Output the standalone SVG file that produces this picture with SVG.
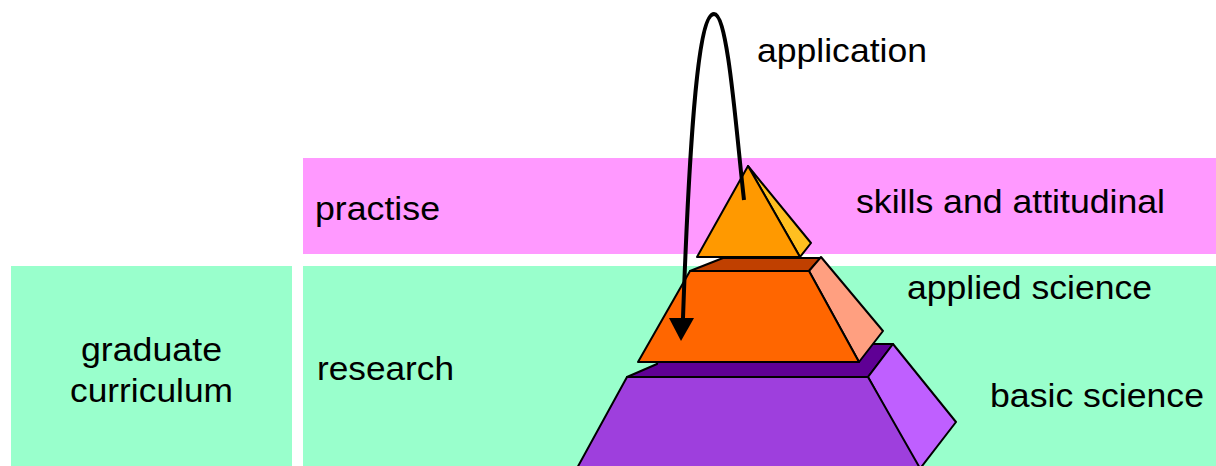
<svg xmlns="http://www.w3.org/2000/svg" width="1216" height="466" viewBox="0 0 1216 466">
<defs>
<style>
text{font-family:"Liberation Sans",Arial,sans-serif;font-size:33px;fill:#000}
.f{stroke:#000;stroke-width:2;stroke-linejoin:round}
</style>
</defs>
<rect width="1216" height="466" fill="#fff"/>
<g id="band-practise">
<rect x="303" y="158" width="913" height="96" fill="#FF99FF"/>
<text x="315" y="220" textLength="125" lengthAdjust="spacingAndGlyphs">practise</text>
<text x="856" y="213" textLength="309" lengthAdjust="spacingAndGlyphs">skills and attitudinal</text>
</g>
<g id="band-research">
<rect x="303" y="266" width="913" height="200" fill="#99FFCC"/>
<text x="317" y="380" textLength="137" lengthAdjust="spacingAndGlyphs">research</text>
<text x="907" y="299" textLength="245" lengthAdjust="spacingAndGlyphs">applied science</text>
<text x="990" y="407" textLength="214" lengthAdjust="spacingAndGlyphs">basic science</text>
</g>
<g id="graduate">
<rect x="11" y="266" width="281" height="200" fill="#99FFCC"/>
<text x="81" y="361" textLength="141" lengthAdjust="spacingAndGlyphs">graduate</text>
<text x="70" y="402" textLength="163" lengthAdjust="spacingAndGlyphs">curriculum</text>
</g>
<g id="tier-basic">
<polygon class="f" points="627,377 657,364 660,344 893,344 868,377" fill="#5F0095"/>
<polygon class="f" points="868,377 893,344 956,422 919,470" fill="#BF5FFF"/>
<polygon class="f" points="627,377 868,377 921,470 576,470" fill="#9E3FDD"/>
</g>
<g id="tier-applied">
<polygon class="f" points="690,271 723,258 821,258 809,271" fill="#C04000"/>
<polygon class="f" points="809,271 821,257 883,331 859,362" fill="#FF9F80"/>
<polygon class="f" points="690,271 809,271 859,362 638,362" fill="#FF6600"/>
</g>
<g id="tier-skills">
<polygon class="f" points="748,166 811,243 800,257" fill="#FFBF20"/>
<polygon class="f" points="748,166 800,257 697,257" fill="#FF9900"/>
</g>
<g id="connectors">
<path d="M744,200 C736,130 728,14 714,14 C699,14 690,120 683,318" fill="none" stroke="#000" stroke-width="4"/>
<polygon points="669,318 694,318 681,341" fill="#000"/>
</g>
<g id="label-application">
<text x="757" y="62" textLength="170" lengthAdjust="spacingAndGlyphs">application</text>
</g>
</svg>
